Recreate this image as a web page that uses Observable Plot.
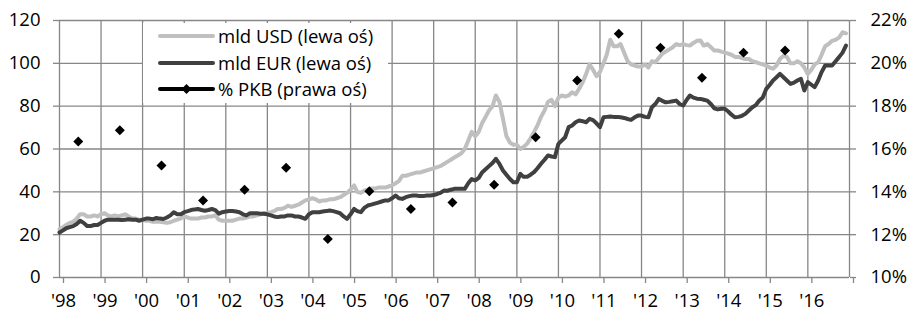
<!DOCTYPE html>
<html><head><meta charset="utf-8">
<script src="https://cdn.jsdelivr.net/npm/d3@7"></script>
<script src="https://cdn.jsdelivr.net/npm/@observablehq/plot@0.6"></script>
<style>
body{margin:0;background:#fff;}
#wrap{position:relative;width:908px;height:313px;font-family:"Open Sans",sans-serif;}
#legend{position:absolute;left:143px;top:23px;width:245px;height:80px;background:#fff;font-size:18.5px;color:#000;}
.row{position:absolute;left:0;height:26px;width:245px;}
.row svg{position:absolute;left:15px;top:0;}
.row span{position:absolute;left:75px;top:0px;line-height:26px;white-space:nowrap;}
</style></head>
<body><div id="wrap"><div id="legend"></div></div>
<script>
const startYear = 1998;
const usd = [
22.5,23.5,24.5,25.5,26,27.5,29.5,29.5,28.5,28.5,29,28.5,
29.5,30,29,28.5,29,28.5,29,29.5,28.5,27.5,27.5,27,
27,26.5,26.5,26,26,26,25.8,25.5,25.8,26.5,27,27.5,
28.5,28,27.5,27.5,27.5,28,28,28.5,28.5,29,27,26.5,
26.5,26.5,26.5,27,27.5,27.5,28,28.5,28.5,29,29.5,30,
30,30.5,31,32,32,32.5,33.5,33,33.5,34,35,36,
36.5,37,36.5,35.5,36,36,36.5,36.5,37,37.5,38.5,39.5,
41,43,40,39.5,40.5,41,41.5,41.5,42,42,42,42.5,
43,44,45,47.5,47.5,48,48.5,49,49,49.5,50,50.5,
51,51.5,52,53,54,55,56,57,58,60,64,68,
66,68,72,75,78,80,85,82,74,66,63,62,
62,60,61,62.5,65,68,71,75,78,82,83,80,
84,85,84.5,85,86.5,85.5,88,91,95,99.5,97,94,
96,100,104,111,108,108,109,105,101,99.5,99,98.5,
98.5,99.5,98,101,100.5,102.5,104.5,105.5,106.5,107.5,109,108.5,
109,108.5,108.3,109.5,110.5,110.7,108.3,109,107.5,106,106,105.5,
105,104.5,104,103,103,102.5,102,102,101,100.5,100,99.5,
99,98,97.5,99,102,103.5,103,100,100,101,100,98,
95,97,99.5,100.5,104,108,109,110.5,111,112,114.5,114
];
const eur = [
21,22,23,23.5,24,25,26.5,25.5,24,24,24.5,24.5,
25.5,26.5,27,27,27,27,26.8,27,27.2,27,27,26.5,
27,27.5,27.5,27.2,27.8,27.5,27.3,28,29,30.5,29.5,29.5,
30.5,31,31.5,31.8,32,31.5,31.2,31.5,32,31.5,29.8,30.5,
30.8,31,31,30.8,30.5,29.5,29,30,30,30,29.8,29.8,
29.5,29,28.5,28.2,28.5,28.5,29,29,28.5,28.5,28,27.4,
29.5,30.5,30.5,30.5,30.8,31,31.3,31,30.5,30,28.5,27.4,
29.5,32,31,30.5,32.5,33.6,34,34.5,35,35.5,36,36,
37,38.3,37,36.7,37.5,38,38.3,38.3,38,38,38.3,38.3,
38.5,39,39.5,40.6,40.5,41,41.4,41.4,41.4,41.4,44,46,
45.3,46.5,49,50.5,52,53.5,55.4,53,50,48,46,44.5,
44.5,48.4,47,47,48,49.2,51,53.1,55,57,56.5,56.2,
62.4,64,65.5,70.2,71,72.5,73.3,73,72.5,74.1,73.5,72,
70.2,74.8,75,75.2,75,75,74.8,74.5,74,73.6,74.8,75.6,
75.6,75,74.8,79.5,81,83.4,82.5,81.8,82,82.3,82.6,81,
80.3,83,85,84,83.5,83.4,83,82.6,81,79,78.5,78.8,
78.8,77.5,76,74.8,75,75.5,76.4,78,79.5,80.5,82.6,84,
88.1,90,92,93.5,95.1,93.5,92,90.4,91,92,92.8,87.3,
91.2,90,88.9,92,95.9,99,99,99,101,102.9,105,108.3
];
const pkbYears = [1998,1999,2000,2001,2002,2003,2004,2005,2006,2007,2008,2009,2010,2011,2012,2013,2014,2015];
const pkb = [16.35,16.87,15.23,13.6,14.1,15.13,11.8,14.03,13.2,13.5,14.33,16.55,19.2,21.38,20.73,19.33,20.5,20.6];
const leftTicks = [0,20,40,60,80,100,120];
const rightTicks = ["10%","12%","14%","16%","18%","20%","22%"];
const yearLabels = ["'98","'99","'00","'01","'02","'03","'04","'05","'06","'07","'08","'09","'10","'11","'12","'13","'14","'15","'16",""];
const legendLabels = ["mld USD (lewa oś)","mld EUR (lewa oś)","% PKB (prawa oś)"];
const colors = {usd:"#bfbfbf", eur:"#404040", pkb:"#000000"};
const gridColor = "#878787";

const monthDate = i => new Date(Date.UTC(startYear, i, 1));
const usdData = usd.map((v,i)=>({date:monthDate(i), v}));
const eurData = eur.map((v,i)=>({date:monthDate(i), v}));
// right axis 10%..22% mapped onto left 0..120
const pctToLeft = p => (p - 10) * 10;
const pkbData = pkb.map((p,i)=>({date:new Date(Date.UTC(pkbYears[i],5,15)), v:pctToLeft(p)}));
const yearTicks = yearLabels.map((_,i)=>new Date(Date.UTC(startYear+i,0,1)));

const chart = Plot.plot({
  width: 908, height: 313,
  marginLeft: 59, marginRight: 59, marginTop: 20, marginBottom: 36,
  style: {fontFamily: "'Open Sans', sans-serif", fontSize: "18.5px", color: "#000", background: "#fff"},
  x: {type: "utc", domain: [yearTicks[0], yearTicks[yearTicks.length-1]]},
  y: {domain: [0, 120]},
  marks: [
    Plot.gridX(yearTicks, {stroke: gridColor, strokeOpacity: 1, strokeWidth: 1.3}),
    Plot.gridY(leftTicks, {stroke: gridColor, strokeOpacity: 1, strokeWidth: 1.3}),
    Plot.axisX(yearTicks, {tickFormat: (d,i)=>yearLabels[i], tickSize: 6, tickPadding: 10, stroke: gridColor, strokeWidth: 1.3, dx: 4, label: null, fill: "#000"}),
    Plot.axisY(leftTicks, {anchor: "left", tickSize: 6, tickPadding: 13, stroke: gridColor, strokeWidth: 1.3, label: null, fill: "#000"}),
    Plot.axisY(leftTicks, {anchor: "right", tickFormat: (d,i)=>rightTicks[i], tickSize: 6, tickPadding: 15, stroke: gridColor, strokeWidth: 1.3, label: null, fill: "#000"}),
    Plot.lineY(usdData, {x: "date", y: "v", stroke: colors.usd, strokeWidth: 4, strokeLinejoin: "round", strokeLinecap: "round"}),
    Plot.lineY(eurData, {x: "date", y: "v", stroke: colors.eur, strokeWidth: 4, strokeLinejoin: "round", strokeLinecap: "round"}),
    Plot.dot(pkbData, {x: "date", y: "v", symbol: "diamond2", r: 4.5, fill: colors.pkb, stroke: null})
  ]
});
const wrap = document.getElementById("wrap");
wrap.insertBefore(chart, wrap.firstChild);

// legend
const legend = document.getElementById("legend");
const rowTops = [0, 27, 53];
const kinds = ["usd","eur","pkb"];
legendLabels.forEach((lab,i)=>{
  const row = document.createElement("div");
  row.className = "row";
  row.style.top = rowTops[i] + "px";
  const k = kinds[i];
  let svg = `<svg width="58" height="26"><line x1="2" y1="13" x2="55" y2="13" stroke="${colors[k]}" stroke-width="4" stroke-linecap="round"/>`;
  if (k === "pkb") svg += `<path d="M28.5,8 L33.5,13 L28.5,18 L23.5,13 Z" fill="#000"/>`;
  svg += `</svg>`;
  row.innerHTML = svg + `<span>${lab}</span>`;
  legend.appendChild(row);
});
</script></body></html>
